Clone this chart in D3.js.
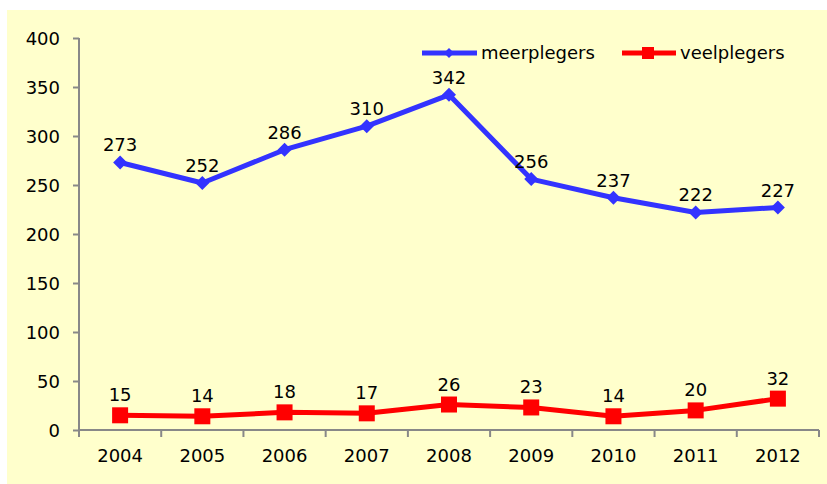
<!DOCTYPE html>
<html><head><meta charset="utf-8">
<script src="https://cdn.jsdelivr.net/npm/d3@7"></script>
<style>body{margin:0;background:#fff}svg{display:block}text{font-family:"DejaVu Sans",sans-serif;fill:#000}</style>
</head><body><svg id="c" width="827" height="484"></svg>
<script>
const years = ["2004","2005","2006","2007","2008","2009","2010","2011","2012"];
const meerplegers = [273,252,286,310,342,256,237,222,227];
const veelplegers = [15,14,18,17,26,23,14,20,32];
const yTicks = [0,50,100,150,200,250,300,350,400];
const seriesNames = ["meerplegers","veelplegers"];

const svg = d3.select("#c");
const fs = "18px";
svg.append("rect").attr("x",7).attr("y",10).attr("width",820).attr("height",474).attr("fill","#FFFFCC");

const x = d3.scaleBand().domain(years).range([79,819]);
const y = d3.scaleLinear().domain([0,400]).range([430,38]);
const axisColor = "#888";

// y axis
const ya = svg.append("g").attr("transform","translate(79,0)")
  .call(d3.axisLeft(y).tickValues(yTicks).tickSize(6).tickPadding(13));
ya.select(".domain").attr("stroke",axisColor).attr("stroke-width",2).attr("d","M0,38V430");
ya.selectAll(".tick line").attr("stroke",axisColor).attr("stroke-width",2);
ya.selectAll(".tick text").style("font-size",fs).attr("dy","0.35em");

// x axis
const xa = svg.append("g").attr("transform","translate(0,430)")
  .call(d3.axisBottom(x).tickSize(0).tickPadding(19));
xa.select(".domain").attr("stroke",axisColor).attr("stroke-width",2).attr("d","M79,0H819");
xa.selectAll(".tick text").style("font-size",fs);
const bounds = years.map(d=>x(d)).concat([x.range()[1]]);
xa.selectAll("line.b").data(bounds).enter().append("line")
  .attr("x1",d=>d).attr("x2",d=>d).attr("y1",0).attr("y2",7)
  .attr("stroke",axisColor).attr("stroke-width",2);

const cx = d => x(d) + x.bandwidth()/2;
const line = d3.line().x((d,i)=>cx(years[i])).y(d=>y(d));
const diamondPath = r => `M0,${-r}L${r},0L0,${r}L${-r},0Z`;

// blue series
svg.append("path").datum(meerplegers).attr("d",line).attr("fill","none")
  .attr("stroke","#3333FF").attr("stroke-width",5).attr("stroke-linejoin","round");
svg.selectAll("path.dm").data(meerplegers).enter().append("path")
  .attr("d",diamondPath(7)).attr("fill","#3333FF")
  .attr("transform",(d,i)=>`translate(${cx(years[i])},${y(d)})`);
svg.selectAll("text.lm").data(meerplegers).enter().append("text")
  .attr("x",(d,i)=>cx(years[i])).attr("y",d=>y(d)-11)
  .attr("text-anchor","middle").style("font-size",fs).text(d=>d);

// red series
svg.append("path").datum(veelplegers).attr("d",line).attr("fill","none")
  .attr("stroke","#FF0000").attr("stroke-width",5).attr("stroke-linejoin","round");
svg.selectAll("rect.sq").data(veelplegers).enter().append("rect")
  .attr("x",(d,i)=>cx(years[i])-8).attr("y",d=>y(d)-8).attr("width",16).attr("height",16)
  .attr("fill","#FF0000");
svg.selectAll("text.lv").data(veelplegers).enter().append("text")
  .attr("x",(d,i)=>cx(years[i])).attr("y",d=>y(d)-14)
  .attr("text-anchor","middle").style("font-size",fs).text(d=>d);

// legend
const lg = svg.append("g");
lg.append("line").attr("x1",422).attr("x2",477).attr("y1",53).attr("y2",53).attr("stroke","#3333FF").attr("stroke-width",5);
lg.append("path").attr("d",diamondPath(5)).attr("fill","#3333FF").attr("transform","translate(449,53)");
lg.append("text").attr("x",481).attr("y",53).attr("dy","0.35em").style("font-size",fs).text(seriesNames[0]);
lg.append("line").attr("x1",622).attr("x2",676).attr("y1",53).attr("y2",53).attr("stroke","#FF0000").attr("stroke-width",5);
lg.append("rect").attr("x",642).attr("y",47).attr("width",12).attr("height",12).attr("fill","#FF0000");
lg.append("text").attr("x",680).attr("y",53).attr("dy","0.35em").style("font-size",fs).text(seriesNames[1]);
</script></body></html>
